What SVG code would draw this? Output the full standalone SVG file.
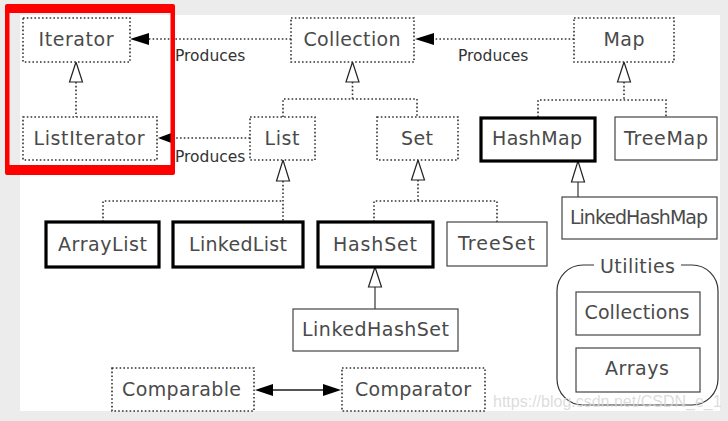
<svg xmlns="http://www.w3.org/2000/svg" width="728" height="421" viewBox="0 0 728 421">
<defs>
<style>
.lbl{font-family:"DejaVu Sans","Liberation Sans",sans-serif;font-size:19px;fill:#4a4a4a;text-anchor:middle}
.prod{font-family:"DejaVu Sans","Liberation Sans",sans-serif;font-size:15.5px;fill:#333}
.dbox{fill:#fff;stroke:#333;stroke-width:1.6;stroke-dasharray:1.6 2.2}
.sbox{fill:#fff;stroke:#444;stroke-width:1.2}
.tbox{fill:#fff;stroke:#000;stroke-width:3.2}
.dl{fill:none;stroke:#333;stroke-width:1.6;stroke-dasharray:1.6 2.2}
.sl{fill:none;stroke:#333;stroke-width:1.2}
.tri{fill:#fff;stroke:#222;stroke-width:1.2}
.ah{fill:#000}
</style>
</defs>
<rect x="0" y="0" width="728" height="421" fill="#ececec"/>
<rect x="20" y="15" width="700" height="396" fill="#fff"/>

<g id="connectors">
<line class="dl" x1="291" y1="39" x2="148" y2="39"/>
<polygon class="ah" points="130,39 149,33 149,45"/>
<line class="dl" x1="574" y1="39" x2="432" y2="39"/>
<polygon class="ah" points="415,39 434,33 434,45"/>
<line class="dl" x1="250" y1="138" x2="173" y2="138"/>
<polygon class="ah" points="158,138 174,132 174,144"/>
<line class="dl" x1="76" y1="82" x2="76" y2="117"/>
<polygon class="tri" points="76,62 69.5,82 82.5,82"/>
<polyline class="dl" points="352.5,82 352.5,99"/>
<polyline class="dl" points="283,117 283,99 417,99 417,117"/>
<polygon class="tri" points="352.5,62 346,82 359,82"/>
<polyline class="dl" points="624,82 624,100"/>
<polyline class="dl" points="538,117 538,100 666,100 666,117"/>
<polygon class="tri" points="624,62 617.5,82 630.5,82"/>
<polyline class="dl" points="103,222 103,201 283,201"/>
<polyline class="dl" points="283,181 283,222"/>
<polygon class="tri" points="283,160 276.5,181 289.5,181"/>
<polyline class="dl" points="418,180 418,201"/>
<polyline class="dl" points="374,222 374,201 497,201 497,222"/>
<polygon class="tri" points="418,160 411.5,180 424.5,180"/>
<line class="sl" x1="375" y1="287" x2="375" y2="309"/>
<polygon class="tri" points="375,267 368.5,287 381.5,287"/>
<line class="sl" x1="578" y1="182" x2="578" y2="197"/>
<polygon class="tri" points="578,161 571.5,182 584.5,182"/>
<line x1="270" y1="390" x2="326" y2="390" stroke="#555" stroke-width="2"/>
<polygon class="ah" points="255,390 273,384 273,396"/>
<polygon class="ah" points="341,390 323,384 323,396"/>
</g>

<g id="produces-labels">
<text class="prod" x="175" y="61">Produces</text>
<text class="prod" x="175" y="162">Produces</text>
<text class="prod" x="458" y="61">Produces</text>
</g>

<g id="Iterator"><rect class="dbox" x="23" y="18" width="107" height="44"/><text class="lbl" x="76" y="46" textLength="75">Iterator</text></g>
<g id="ListIterator"><rect class="dbox" x="23" y="117" width="134" height="43"/><text class="lbl" x="89" y="144.5" textLength="111">ListIterator</text></g>
<g id="Collection"><rect class="dbox" x="291" y="18" width="123" height="44"/><text class="lbl" x="352" y="46" textLength="97">Collection</text></g>
<g id="Map"><rect class="dbox" x="574" y="18" width="100" height="44"/><text class="lbl" x="624" y="46" textLength="41">Map</text></g>
<g id="List"><rect class="dbox" x="250" y="117" width="65" height="43"/><text class="lbl" x="282" y="144.5" textLength="35">List</text></g>
<g id="Set"><rect class="dbox" x="377" y="117" width="81" height="43"/><text class="lbl" x="417" y="144.5" textLength="32">Set</text></g>
<g id="HashMap"><rect class="tbox" x="481" y="118" width="114" height="43"/><text class="lbl" x="537" y="145" textLength="90">HashMap</text></g>
<g id="TreeMap"><rect class="sbox" x="615" y="117" width="102" height="43"/><text class="lbl" x="666" y="144.5" textLength="84">TreeMap</text></g>
<g id="LinkedHashMap"><rect class="sbox" x="562" y="197" width="155" height="42"/><text class="lbl" x="639" y="224" textLength="138">LinkedHashMap</text></g>
<g id="ArrayList"><rect class="tbox" x="46" y="222" width="113" height="45"/><text class="lbl" x="102.5" y="250.5" textLength="89">ArrayList</text></g>
<g id="LinkedList"><rect class="tbox" x="173" y="222" width="130" height="45"/><text class="lbl" x="238" y="250.5" textLength="98">LinkedList</text></g>
<g id="HashSet"><rect class="tbox" x="318" y="222" width="115" height="45"/><text class="lbl" x="375" y="250.5" textLength="84">HashSet</text></g>
<g id="TreeSet"><rect class="sbox" x="447" y="222" width="100" height="44"/><text class="lbl" x="496.5" y="250" textLength="77">TreeSet</text></g>
<g id="LinkedHashSet"><rect class="sbox" x="293" y="309" width="165" height="42"/><text class="lbl" x="375.5" y="336" textLength="147">LinkedHashSet</text></g>
<g id="Comparable"><rect class="dbox" x="112" y="368" width="142" height="43"/><text class="lbl" x="181.5" y="395.5" textLength="119">Comparable</text></g>
<g id="Comparator"><rect class="dbox" x="342" y="368" width="143" height="43"/><text class="lbl" x="413" y="395.5" textLength="116">Comparator</text></g>

<g id="Utilities">
<path class="sl" d="M594,265 H583 A26,26 0 0 0 557,291 V379 A26,26 0 0 0 583,405 H692 A26,26 0 0 0 718,379 V291 A26,26 0 0 0 692,265 H681"/>
<text class="lbl" x="637.5" y="273" textLength="75">Utilities</text>
<g id="Collections"><rect class="sbox" x="576" y="292" width="124" height="43"/><text class="lbl" x="637" y="319" textLength="105">Collections</text></g>
<g id="Arrays"><rect class="sbox" x="576" y="348" width="124" height="44"/><text class="lbl" x="637" y="375" textLength="64">Arrays</text></g>
</g>

<text x="493" y="407" font-family="Liberation Sans, Arial, sans-serif" font-size="16" fill="#d6d6d6" fill-opacity="0.85">https://blog.csdn.net/CSDN_e_1</text>

<path id="highlight" fill="#f00" fill-rule="evenodd" d="M7,4 H173 Q175,4 175,6 V173 Q175,175 173,175 H7 Q5,175 5,173 V6 Q5,4 7,4 Z M9.5,13 V165 H170.5 V13 Z"/>
</svg>
